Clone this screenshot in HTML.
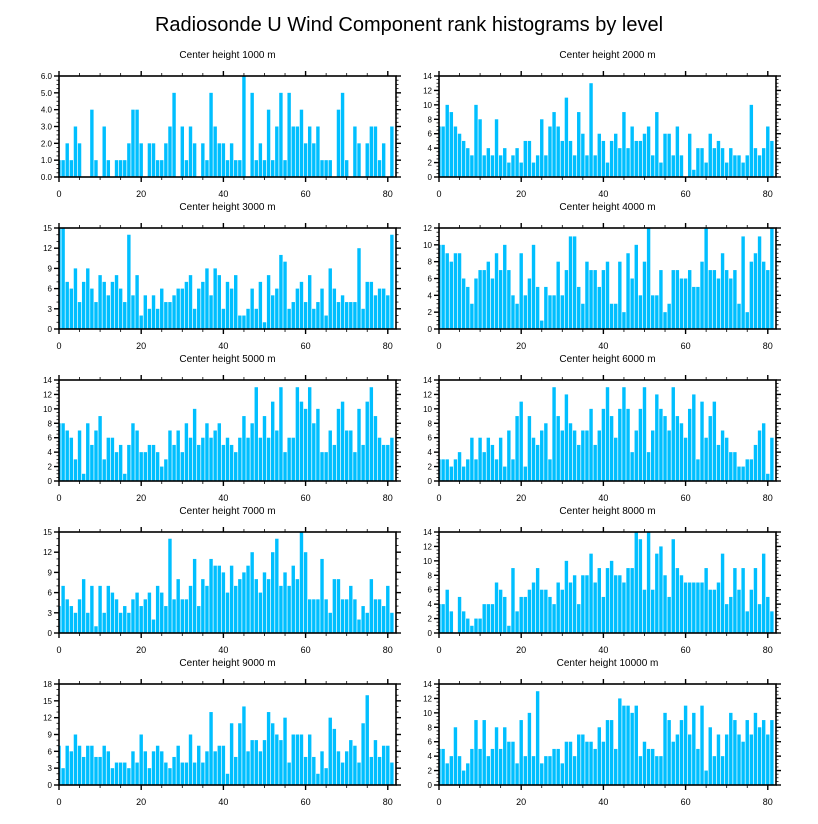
<!DOCTYPE html>
<html><head><meta charset="utf-8"><style>
body{margin:0;background:#fff;}
svg{display:block;font-family:"Liberation Sans",sans-serif;}
</style></head><body>
<svg id="chart" width="818" height="824" viewBox="0 0 818 824" xmlns="http://www.w3.org/2000/svg">
<text x="409" y="31" text-anchor="middle" font-size="20" fill="#000">Radiosonde U Wind Component rank histograms by level</text>
</svg>
<script>
const levels = [1000,2000,3000,4000,5000,6000,7000,8000,9000,10000];
const yMaxes = [6,14,15,12,14,14,15,14,18,14];
const yMajor = [1,2,3,2,2,2,3,2,3,2];
const xTicks = [0,20,40,60,80];
const v1000 = [1,1,2,1,3,2,0,0,4,1,0,3,1,0,1,1,1,2,4,4,2,0,2,2,1,1,2,3,5,0,3,1,3,2,0,2,1,5,3,2,2,1,2,1,1,6,0,5,1,2,1,4,1,3,5,1,5,3,3,4,2,3,2,3,1,1,1,0,4,5,1,0,3,2,0,2,3,3,1,2,0,3];
const v2000 = [7,7,10,9,7,6,5,4,3,10,8,3,4,3,8,3,4,2,3,4,2,5,5,2,3,8,3,7,9,7,5,11,5,3,9,6,3,13,3,6,5,2,5,6,4,9,4,7,5,5,6,7,3,9,2,6,6,3,7,3,0,6,1,4,4,2,6,4,5,4,2,4,3,3,2,3,10,4,3,4,7,5];
const v3000 = [15,15,7,6,9,4,7,9,6,4,8,7,5,7,8,6,4,14,5,8,2,5,3,5,3,6,4,4,5,6,6,7,8,3,6,7,9,5,9,8,3,7,6,8,2,2,3,6,3,7,1,8,5,6,11,10,3,4,6,7,4,8,3,4,6,2,9,6,4,5,4,4,4,12,3,7,7,5,6,6,5,14];
const v4000 = [10,10,9,8,9,9,6,5,3,6,7,7,8,6,9,7,10,7,4,3,9,4,6,10,5,1,5,4,4,8,4,7,11,11,5,3,8,7,7,5,7,8,3,3,8,2,9,6,10,4,8,12,4,4,7,2,3,7,7,6,6,7,5,5,8,12,7,7,6,9,7,6,7,3,11,2,8,9,11,8,7,12];
const v5000 = [8,8,7,6,3,7,1,8,5,7,9,3,6,6,4,5,1,5,8,7,4,4,5,5,4,2,3,7,5,7,4,8,6,10,5,6,8,6,7,8,5,6,5,4,6,9,6,8,13,6,9,6,11,7,13,4,6,6,13,11,10,13,8,10,4,4,7,5,10,11,7,7,4,10,5,11,13,9,6,5,5,6];
const v6000 = [3,3,3,2,3,4,2,3,6,3,6,4,6,5,3,6,2,7,3,9,11,2,9,6,5,7,8,3,13,9,7,12,8,7,5,7,7,10,5,7,10,13,9,6,10,13,10,4,7,10,13,4,7,12,10,9,7,13,9,8,6,10,12,3,11,6,9,11,5,7,6,4,4,2,2,3,3,5,7,8,1,6];
const v7000 = [4,7,5,4,3,5,8,3,7,1,7,3,7,6,5,3,4,3,5,6,4,5,6,2,7,6,4,14,5,8,5,5,7,11,4,8,7,11,10,10,9,6,10,7,8,9,10,12,8,6,9,8,12,14,7,9,7,10,8,15,12,5,5,5,11,5,3,8,8,5,5,7,5,2,4,3,8,5,5,4,7,3];
const v8000 = [4,4,6,3,0,5,3,2,1,2,2,4,4,4,7,6,5,1,9,3,5,5,6,7,9,6,6,5,4,7,6,10,7,8,4,8,8,11,7,9,5,9,10,8,8,7,9,9,14,13,6,14,6,11,12,8,5,13,9,8,7,7,7,7,7,9,6,6,7,11,4,5,9,6,9,3,6,9,4,11,5,3];
const v9000 = [7,3,7,6,9,7,5,7,7,5,5,7,6,3,4,4,4,3,6,4,9,6,3,6,7,6,4,3,5,7,4,4,9,4,7,4,6,13,6,7,7,2,11,5,11,14,6,8,8,6,8,13,11,9,8,12,4,9,9,9,5,9,5,2,6,3,12,10,6,4,6,8,7,4,11,16,5,8,5,7,7,4];
const v10000 = [5,5,3,4,8,4,2,3,5,9,5,9,4,5,8,5,8,6,6,3,9,4,10,4,13,3,4,4,5,5,3,6,6,4,7,7,6,6,5,8,6,9,9,5,12,11,11,10,11,4,6,5,5,4,4,10,9,6,7,9,11,7,10,5,11,2,8,4,7,4,7,10,9,7,6,9,7,10,8,9,7,9];
const series = [v1000,v2000,v3000,v4000,v5000,v6000,v7000,v8000,v9000,v10000];

const NS = "http://www.w3.org/2000/svg";
const svg = document.getElementById('chart');
function mk(tag, attrs, parent){const e=document.createElementNS(NS,tag);for(const k in attrs)e.setAttribute(k,attrs[k]);(parent||svg).appendChild(e);return e;}

for(let p=0;p<10;p++){
  const col=p%2,row=Math.floor(p/2);
  const L=col?439:59, R=col?776:396, T=76+152*row, B=T+101;
  const W=R-L, H=B-T, xMax=82, yMax=yMaxes[p];
  const xs=v=>L+v/xMax*W, ys=v=>B-v/yMax*H;
  const g=mk('g',{});
  
  
  const t=mk('text',{x:(L+R)/2,y:T-18,'text-anchor':'middle','font-size':'10',fill:'#000'},g);
  t.textContent='Center height '+levels[p]+' m';
  
  
  const clip='c'+p;
  const cp=mk('clipPath',{id:clip},g);mk('rect',{x:L,y:T,width:W,height:H},cp);
  const bg=mk('g',{'clip-path':'url(#'+clip+')'},g);
  series[p].forEach((v,i)=>{
    if(v<=0)return;
    const r=mk('rect',{x:xs(i-0.5)+0.35,y:ys(v),width:xs(1)-xs(0)-0.7,height:B-ys(v),fill:'#00bfff'},bg);
    
    
  });
  const fr=mk('rect',{x:L,y:T,width:W,height:H,fill:'none',stroke:'#000','stroke-width':'1.6'},g);
  
  
  for(let v=0;v<=xMax;v+=5){
    const x=xs(v),maj=v%20===0,len=maj?5:3;
    mk('line',{x1:x,x2:x,y1:B,y2:B+len,stroke:'#000','stroke-width':maj?1.4:0.8},g);
    mk('line',{x1:x,x2:x,y1:T,y2:T-len,stroke:'#000','stroke-width':maj?1.4:0.8},g);
  }
  xTicks.forEach(v=>{
    const lt=mk('text',{x:xs(v),y:B+20,'text-anchor':'middle','font-size':'9',fill:'#000'},g);
    lt.textContent=v;
    
    
  });
  const mj=yMajor[p], mn=mj%3===0?mj/3:mj/4;
  for(let k=0;k*mn<=yMax+1e-9;k++){
    const v=k*mn,y=ys(v),maj=Math.abs(v/mj-Math.round(v/mj))<1e-6,len=maj?5:2.5;
    mk('line',{x1:L,x2:L-len,y1:y,y2:y,stroke:'#000','stroke-width':maj?1.4:0.8},g);
    mk('line',{x1:R,x2:R+len,y1:y,y2:y,stroke:'#000','stroke-width':maj?1.4:0.8},g);
    if(maj){
      const yt=mk('text',{x:L-7,y:y+3,'text-anchor':'end','font-size':'8',fill:'#000'},g);
      yt.textContent=p===0?v.toFixed(1):String(Math.round(v));
      
      
    }
  }
}
</script>
</body></html>
